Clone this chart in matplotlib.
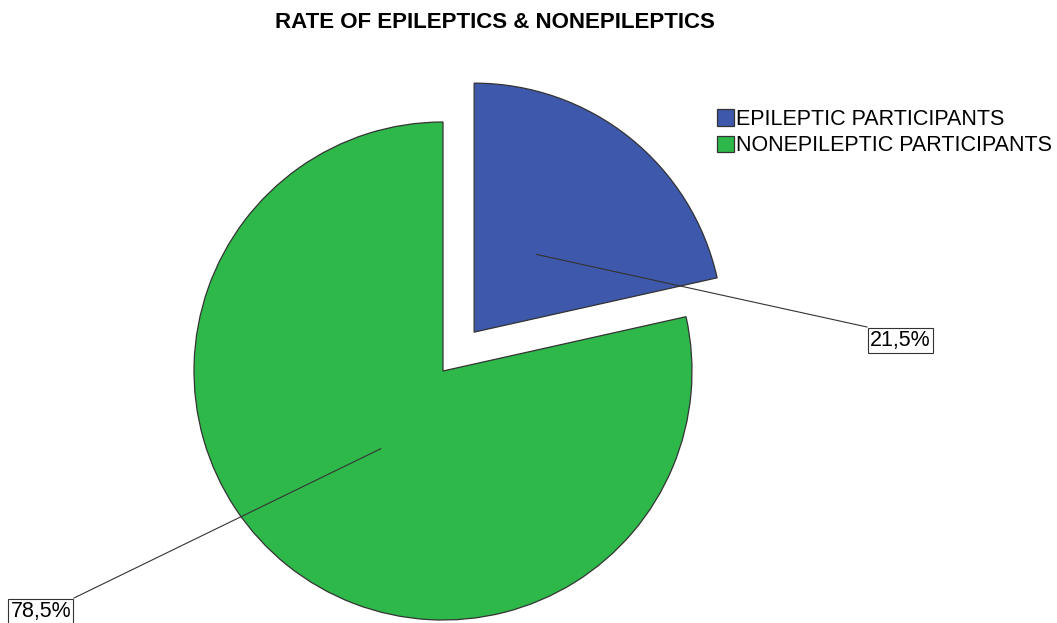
import numpy as np
import matplotlib.pyplot as plt

plt.rcParams['font.family'] = ['Liberation Sans', 'DejaVu Sans']

labels = ["EPILEPTIC PARTICIPANTS", "NONEPILEPTIC PARTICIPANTS"]
shares = [21.5, 78.5]
pct_text = ["21,5%", "78,5%"]
colors = ["#3e58ac", "#2eb84a"]
explode = [0.2, 0.0]   # fraction of radius

W, H = 1057, 623
fig = plt.figure(figsize=(W / 100, H / 100), dpi=100)
ax = fig.add_axes([0, 0, 1, 1])

cx, cy, R = 443, H - 371, 249
wedges, _ = ax.pie(shares, colors=colors, explode=[e * R for e in explode], startangle=90,
                   counterclock=False, center=(cx, cy), radius=R, frame=True,
                   wedgeprops=dict(edgecolor="#333333", linewidth=0.9))
ax.set_xlim(0, W)
ax.set_ylim(0, H)
ax.set_aspect("equal")
ax.axis("off")

# label boxes with leader lines (box corner where line ends)
box_pos = [(867, H - 327, "left", "top"), (74, H - 598, "right", "top")]
start = 90
for i, (w, s) in enumerate(zip(wedges, shares)):
    mid = np.deg2rad(start - s * 3.6 / 2)
    start -= s * 3.6
    ox = explode[i] * R * np.cos(mid)
    oy = explode[i] * R * np.sin(mid)
    px = cx + ox + 0.4 * R * np.cos(mid)
    py = cy + oy + 0.4 * R * np.sin(mid)
    bx, by, ha, va = box_pos[i]
    ax.plot([px, bx], [py, by], color="#333333", lw=0.8)
    tx = bx + 3 if ha == "left" else bx - 3
    ax.text(tx, by - 3, pct_text[i], ha=ha, va=va, fontsize=15.5,
            bbox=dict(boxstyle="square,pad=0.1", fc="white", ec="#333333", lw=0.8))

ax.legend(wedges, labels, loc="upper left", bbox_to_anchor=(717 / W, 1 - 109 / H),
          frameon=False, fontsize=15.5, handlelength=0.8, handleheight=0.8,
          handletextpad=0.1, labelspacing=0.25, borderaxespad=0, borderpad=0)

fig.text(495 / W, 1 - 22 / H, "RATE OF EPILEPTICS & NONEPILEPTICS", ha="center",
         va="center", fontsize=16, fontweight="bold")

fig.savefig("out.png", dpi=100)
